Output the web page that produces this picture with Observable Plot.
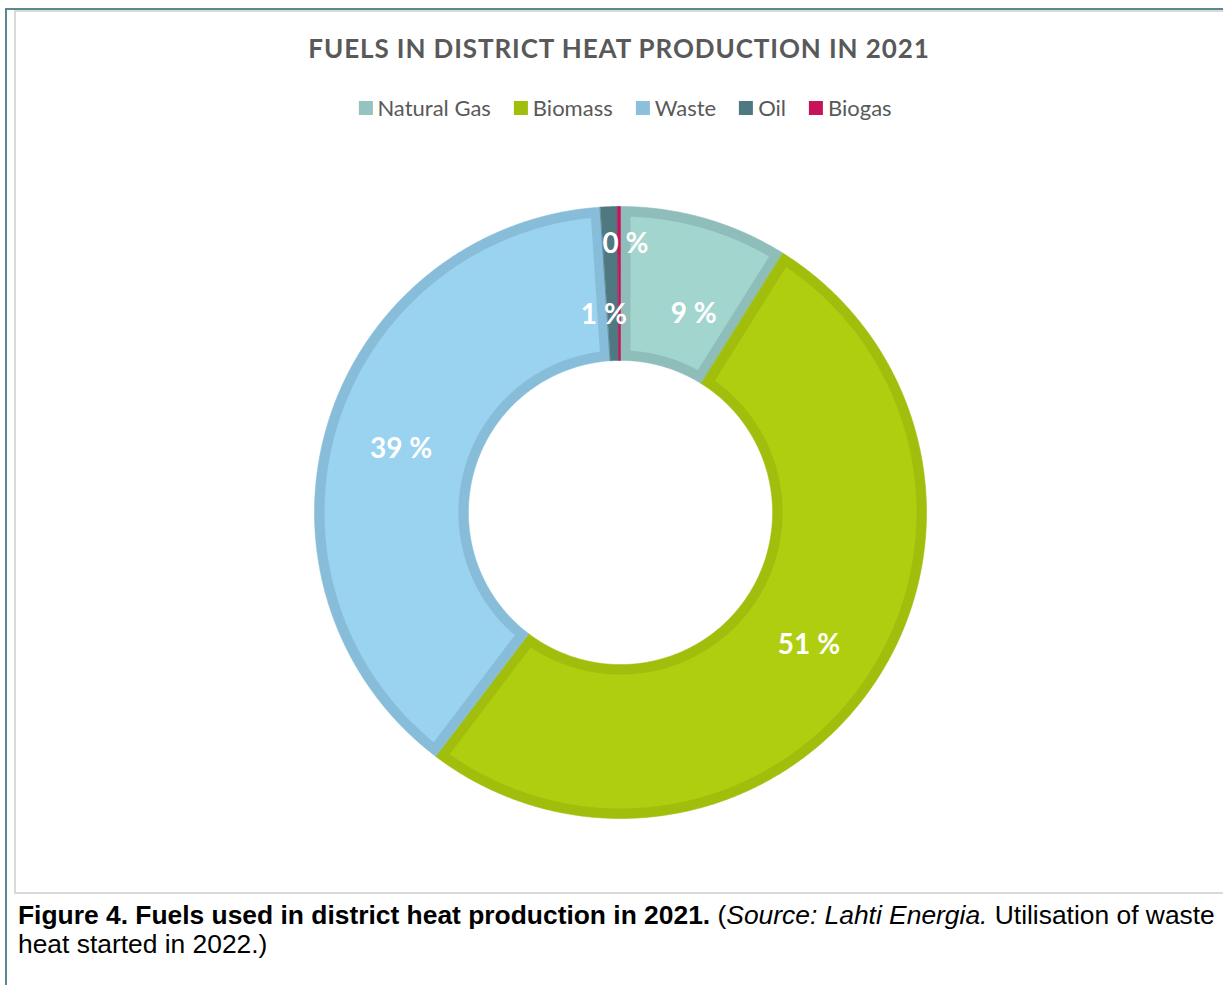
<!DOCTYPE html>
<html><head><meta charset="utf-8">
<script src="https://cdn.jsdelivr.net/npm/d3@7"></script>
<script src="https://cdn.jsdelivr.net/npm/@observablehq/plot@0.6"></script>
<style>
html,body{margin:0;padding:0;background:#fff;overflow:hidden;width:1223px;height:985px;}
#page{position:relative;width:1223px;height:985px;overflow:hidden;}
#frameOuter{position:absolute;left:5px;top:8px;width:1400px;height:1200px;border-left:2px solid #5B8791;border-top:2px solid #5B8791;}
#frameInner{position:absolute;left:14px;top:10px;width:1400px;height:880px;border-left:2px solid #D9D9D9;border-top:2px solid #D9D9D9;border-bottom:2px solid #D9D9D9;}
#title{position:absolute;left:619px;top:31px;transform:translateX(-50%);white-space:nowrap;font-family:Lato,sans-serif;font-weight:bold;font-size:26px;letter-spacing:0.9px;color:#595959;line-height:34px;}
#legend{position:absolute;left:625px;top:95px;transform:translateX(-50%);white-space:nowrap;display:flex;align-items:center;font-family:Lato,sans-serif;font-size:22px;color:#595959;line-height:26px;}
#legend .item{display:flex;align-items:center;margin:0 11.5px;}
#legend .sw{width:14px;height:14px;margin-right:5px;}
#chart{position:absolute;left:0;top:160px;}
#caption{position:absolute;left:18px;top:901px;white-space:nowrap;font-family:"Liberation Sans",Arial,sans-serif;font-size:26.4px;line-height:29px;color:#000;}
</style>
</head><body>
<div id="page">
  <div id="frameOuter"></div>
  <div id="frameInner"></div>
  <div id="title">FUELS IN DISTRICT HEAT PRODUCTION IN 2021</div>
  <div id="legend"></div>
  <div id="chart"></div>
  <div id="caption"><b>Figure 4. Fuels used in district heat production in 2021.</b> (<i>Source: Lahti Energia.</i> Utilisation of waste<br>heat started in 2022.)</div>
</div>
<script>
// ---- data ----
const categories = ["Natural Gas", "Biomass", "Waste", "Oil", "Biogas"];
const shares = [8.9, 51.4, 38.6, 0.9, 0.15];
const labels = ["9 %", "51 %", "39 %", "1 %", "0 %"];
const fillColors = ["#A3D5CF", "#AFCE0F", "#9AD3EF", "#537B83", "#C8135B"];
const edgeColors = ["#8FBEBA", "#A1BE0C", "#88BDD9", "#4F7880", "#C8135B"];
const legendColors = ["#93C4BF", "#A0BE0C", "#8BBFDB", "#4F7880", "#C8135B"];

// ---- legend ----
const legend = document.getElementById("legend");
categories.forEach((c, i) => {
  const it = document.createElement("div"); it.className = "item";
  const sw = document.createElement("div"); sw.className = "sw"; sw.style.background = legendColors[i];
  const tx = document.createElement("span"); tx.textContent = c;
  it.appendChild(sw); it.appendChild(tx); legend.appendChild(it);
});

// ---- geometry from data ----
const R_OUT = 1, R_IN = 0.497, BORDER = 10 / 306;
const arcs = d3.pie().sort(null).value(d => d).startAngle(0).endAngle(2 * Math.PI)(shares);

function ringPolygon(a0, a1, r0, r1, key, color) {
  const pts = [];
  const n = Math.max(2, Math.ceil((a1 - a0) / 0.005) + 1);
  for (let k = 0; k < n; k++) { const a = a0 + (a1 - a0) * k / (n - 1); pts.push({key, color, x: r1 * Math.sin(a), y: r1 * Math.cos(a)}); }
  for (let k = 0; k < n; k++) { const a = a1 - (a1 - a0) * k / (n - 1); pts.push({key, color, x: r0 * Math.sin(a), y: r0 * Math.cos(a)}); }
  return pts;
}

const edgePts = [], innerPts = [];
arcs.forEach((a, i) => {
  edgePts.push(...ringPolygon(a.startAngle, a.endAngle, R_IN, R_OUT, "e" + i, edgeColors[i]));
  const r0 = R_IN + BORDER, r1 = R_OUT - BORDER;
  const o1 = Math.asin(BORDER / r1), o0 = Math.asin(BORDER / r0);
  if (a.endAngle - a.startAngle > 2 * o0 + 0.01) {
    const n = 200;
    for (let k = 0; k < n; k++) { const t = a.startAngle + o1 + (a.endAngle - a.startAngle - 2 * o1) * k / (n - 1); innerPts.push({key: "f" + i, color: fillColors[i], x: r1 * Math.sin(t), y: r1 * Math.cos(t)}); }
    for (let k = 0; k < n; k++) { const t = a.endAngle - o0 - (a.endAngle - a.startAngle - 2 * o0) * k / (n - 1); innerPts.push({key: "f" + i, color: fillColors[i], x: r0 * Math.sin(t), y: r0 * Math.cos(t)}); }
  }
});

const labelRows = arcs.map((a, i) => {
  const m = (a.startAngle + a.endAngle) / 2, r = (R_IN + R_OUT) / 2;
  return {label: labels[i], cat: categories[i], x: r * Math.sin(m), y: r * Math.cos(m)};
});
const labelNudge = {"Natural Gas": [10, 20], "Oil": [-8, 29], "Biogas": [6, -41]};

const labelMarks = labelRows.map(d => Plot.text([d], {
  x: "x", y: "y", text: "label", fill: "white", fontSize: 28, fontWeight: "bold",
  fontFamily: "Lato, sans-serif",
  dx: (labelNudge[d.cat] || [0, 0])[0], dy: (labelNudge[d.cat] || [0, 0])[1] + 2
}));

const plot = Plot.plot({
  width: 1223, height: 720,
  marginLeft: 314, marginRight: 297, marginTop: 46, marginBottom: 62,
  x: {domain: [-1, 1], axis: null},
  y: {domain: [-1, 1], axis: null},
  color: {type: "identity"},
  style: {background: "transparent", overflow: "visible"},
  marks: [
    Plot.line(edgePts, {x: "x", y: "y", z: "key", fill: "color", stroke: "color", strokeWidth: 0.6, curve: "linear-closed"}),
    Plot.line(innerPts, {x: "x", y: "y", z: "key", fill: "color", stroke: "none", curve: "linear-closed"}),
    ...labelMarks
  ]
});
document.getElementById("chart").appendChild(plot);
</script>
</body></html>
